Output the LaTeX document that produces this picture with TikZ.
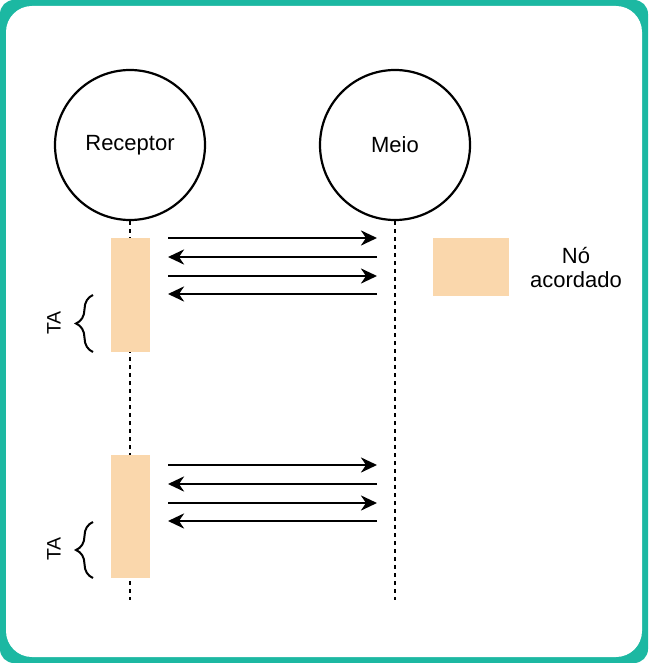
\documentclass[tikz,border=0pt]{standalone}
\usepackage{fontspec}
\setmainfont{Liberation Sans}
\usetikzlibrary{arrows.meta,decorations.pathreplacing}
\definecolor{teal1}{HTML}{1CB8A2}
\definecolor{peach}{HTML}{FAD7AC}
\tikzset{
  actor/.style={circle,draw=black,line width=2.2pt,minimum size=150pt,inner sep=0pt,font=\fontsize{22}{24}\selectfont},
  life/.style={line width=2.6pt,dash pattern=on 4pt off 4pt},
  act/.style={fill=peach,draw=none,minimum width=39pt,inner sep=0pt},
  msg/.style={line width=2.8pt,-{Stealth[length=16pt,width=15pt,inset=5pt]}},
  brc/.style={line width=2pt,decorate,decoration={brace,amplitude=17pt}},
  lbl/.style={font=\fontsize{22}{24}\selectfont,align=center}
}
\begin{document}
\begin{tikzpicture}[x=1pt,y=-1pt]
\useasboundingbox (0,0) rectangle (648,663);
\fill[teal1,rounded corners=14pt] (0,0) rectangle (648,663);
\fill[white,rounded corners=26pt] (6,6) rectangle (642,657);
% actors
\node[actor] (rec) at (130,145) {Receptor};
\node[actor] (meio) at (395,145) {Meio};
\coordinate (recend) at (130,600);
\coordinate (meioend) at (395,600);
\draw[life] (rec.south) -- (recend);
\draw[life] (meio.south) -- (meioend);
% activation bars
\node[act,minimum height=114pt] (b1) at (130.5,295) {};
\node[act,minimum height=123pt] (b2) at (130.5,516.5) {};
% arrows set 1
\coordinate (l1) at (168,238); \coordinate (r1) at (377,238);
\coordinate (l2) at (168,257); \coordinate (r2) at (377,257);
\coordinate (l3) at (168,276); \coordinate (r3) at (377,276);
\coordinate (l4) at (168,294); \coordinate (r4) at (377,294);
\draw[msg] (l1) -- (r1);
\draw[msg] (r2) -- (l2);
\draw[msg] (l3) -- (r3);
\draw[msg] (r4) -- (l4);
% arrows set 2
\coordinate (m1) at (168,465); \coordinate (s1) at (377,465);
\coordinate (m2) at (168,484); \coordinate (s2) at (377,484);
\coordinate (m3) at (168,503); \coordinate (s3) at (377,503);
\coordinate (m4) at (168,521); \coordinate (s4) at (377,521);
\draw[msg] (m1) -- (s1);
\draw[msg] (s2) -- (m2);
\draw[msg] (m3) -- (s3);
\draw[msg] (s4) -- (m4);
% braces
\coordinate (br1a) at (93,295); \coordinate (br1b) at (93,352);
\draw[brc] (br1b) -- (br1a);
\node[lbl,font=\fontsize{19.5}{22}\selectfont,rotate=90] (ta1) at (54,323) {TA};
\coordinate (br2a) at (93,522); \coordinate (br2b) at (93,578);
\draw[brc] (br2b) -- (br2a);
\node[lbl,font=\fontsize{19.5}{22}\selectfont,rotate=90] (ta2) at (54,549) {TA};
% legend
\node[fill=peach,minimum width=76pt,minimum height=58pt,inner sep=0pt] (leg) at (471,267) {};
\node[lbl] (legt) at (576,268) {Nó\\acordado};
\end{tikzpicture}
\end{document}
